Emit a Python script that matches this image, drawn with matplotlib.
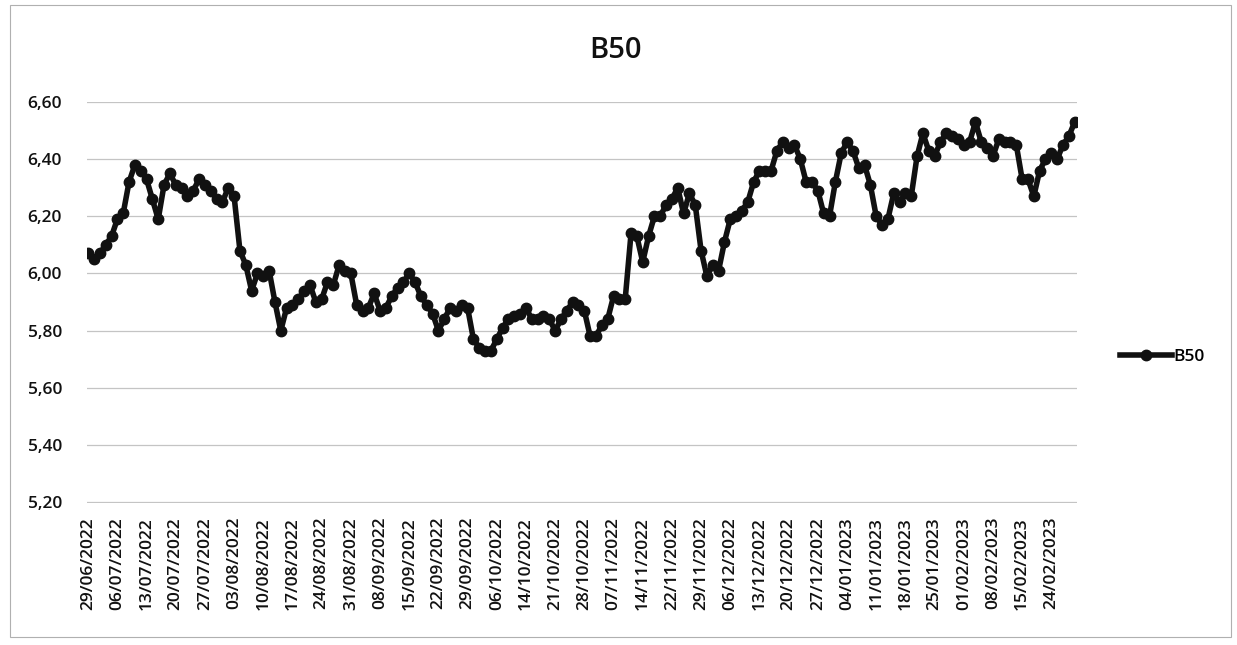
import numpy as np
import pandas as pd
import matplotlib
matplotlib.use("Agg")
import matplotlib.pyplot as plt
from matplotlib.patches import Rectangle

plt.rcParams['font.family'] = ['Open Sans', 'DejaVu Sans']

# trading days (B3 calendar) starting 29/06/2022
holidays = ["2022-09-07", "2022-10-12", "2022-11-02", "2022-11-15",
            "2022-12-30", "2023-02-20", "2023-02-21"]
dates = pd.bdate_range("2022-06-29", periods=170, freq="C", holidays=holidays)
date_labels = [d.strftime("%d/%m/%Y") for d in dates]

b50 = [
    6.07, 6.05, 6.07, 6.10, 6.13, 6.19, 6.21, 6.32, 6.38, 6.36,
    6.33, 6.26, 6.19, 6.31, 6.35, 6.31, 6.30, 6.27, 6.29, 6.33,
    6.31, 6.29, 6.26, 6.25, 6.30, 6.27, 6.08, 6.03, 5.94, 6.00,
    5.99, 6.01, 5.90, 5.80, 5.88, 5.89, 5.91, 5.94, 5.96, 5.90,
    5.91, 5.97, 5.96, 6.03, 6.01, 6.00, 5.89, 5.87, 5.88, 5.93,
    5.87, 5.88, 5.92, 5.95, 5.97, 6.00, 5.97, 5.92, 5.89, 5.86,
    5.80, 5.84, 5.88, 5.87, 5.89, 5.88, 5.77, 5.74, 5.73, 5.73,
    5.77, 5.81, 5.84, 5.85, 5.86, 5.88, 5.84, 5.84, 5.85, 5.84,
    5.80, 5.84, 5.87, 5.90, 5.89, 5.87, 5.78, 5.78, 5.82, 5.84,
    5.92, 5.91, 5.91, 6.14, 6.13, 6.04, 6.13, 6.20, 6.20, 6.24,
    6.26, 6.30, 6.21, 6.28, 6.24, 6.08, 5.99, 6.03, 6.01, 6.11,
    6.19, 6.20, 6.22, 6.25, 6.32, 6.36, 6.36, 6.36, 6.43, 6.46,
    6.44, 6.45, 6.40, 6.32, 6.32, 6.29, 6.21, 6.20, 6.32, 6.42,
    6.46, 6.43, 6.37, 6.38, 6.31, 6.20, 6.17, 6.19, 6.28, 6.25,
    6.28, 6.27, 6.41, 6.49, 6.43, 6.41, 6.46, 6.49, 6.48, 6.47,
    6.45, 6.46, 6.53, 6.46, 6.44, 6.41, 6.47, 6.46, 6.46, 6.45,
    6.33, 6.33, 6.27, 6.36, 6.40, 6.42, 6.40, 6.45, 6.48, 6.53,
]

y_ticks = [5.20, 5.40, 5.60, 5.80, 6.00, 6.20, 6.40, 6.60]

W, H = 1237, 645
fig = plt.figure(figsize=(W / 100, H / 100), dpi=100)
fig.patch.set_facecolor("white")

# outer chart border
fig.add_artist(Rectangle((10 / W, 1 - 637 / H), (1231 - 10) / W, (637 - 5) / H,
                         transform=fig.transFigure, fill=False,
                         edgecolor="#b0b0b0", linewidth=0.8))

ax = fig.add_axes([87 / W, 1 - 503 / H, (1077 - 87) / W, (503 - 102) / H])
x = np.arange(len(b50))
ax.plot(x, b50, color="#111111", linewidth=4.0, marker="o", markersize=7.5,
        label="B50", solid_joinstyle="round")

ax.set_ylim(5.197, 6.60)
ax.set_xlim(-0.2, len(b50) - 0.6)
ax.set_yticks(y_ticks)
ax.set_yticklabels([f"{v:.2f}".replace(".", ",") for v in y_ticks],
                   fontsize=12.5, fontweight="semibold", color="#111111")
ax.set_xticks(x[::5])
ax.set_xticklabels(date_labels[::5], rotation=90, fontsize=12.5,
                   fontweight="semibold", color="#111111")
ax.tick_params(length=0)
ax.tick_params(axis="y", pad=18)
ax.tick_params(axis="x", pad=10)
ax.grid(axis="y", color="#c4c4c4", linewidth=0.9)
ax.set_axisbelow(True)
for s in ax.spines.values():
    s.set_visible(False)

fig.text(615 / W, 1 - 50 / H, "B50", fontsize=21, fontweight="semibold",
         color="#111111", ha="center", va="center")

fig.legend(loc="center left", bbox_to_anchor=(1104 / W, 1 - 357 / H),
           frameon=False, handlelength=3.0, handletextpad=0.1,
           prop={"weight": "semibold", "size": 12.5})

fig.savefig("out.png", dpi=100)
